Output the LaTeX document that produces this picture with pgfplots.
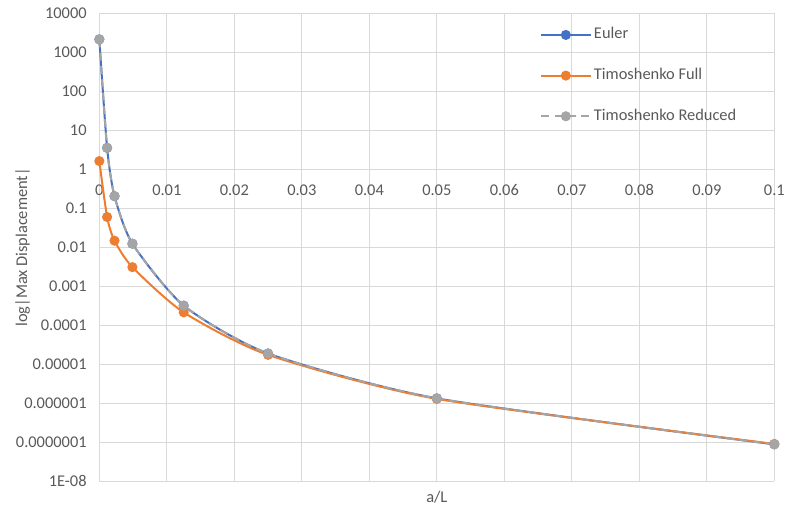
\documentclass[border=0pt]{standalone}
\usepackage{fontspec}
\setmainfont{Carlito}
\usepackage{pgfplots}
\pgfplotsset{compat=1.18}
\usetikzlibrary{calc}

\definecolor{eulerblue}{HTML}{4472C4}
\definecolor{timorange}{HTML}{ED7D31}
\definecolor{timgray}{HTML}{A5A5A5}
\definecolor{gridgray}{HTML}{D9D9D9}
\definecolor{txtgray}{HTML}{595959}

\begin{document}
\begin{tikzpicture}
\begin{axis}[
  scale only axis, width=506.25pt, height=351pt,
  ymode=log, xmin=0, xmax=0.1, ymin=1e-8, ymax=1e4,
  clip=false,
  axis line style={draw=none},
  grid=major, major grid style={gridgray, line width=0.75pt},
  major tick length=0pt, minor tick length=0pt,
  font=\fontsize{12.3}{14}\selectfont,
  tick label style={txtgray},
  xtick={0,0.01,0.02,0.03,0.04,0.05,0.06,0.07,0.08,0.09,0.1},
  xticklabels={0,0.01,0.02,0.03,0.04,0.05,0.06,0.07,0.08,0.09,0.1},
  xticklabel style={anchor=north, yshift=226pt},
  ytick={1e-8,1e-7,1e-6,1e-5,1e-4,1e-3,1e-2,1e-1,1,10,100,1000,10000},
  yticklabels={1E-08,0.0000001,0.000001,0.00001,0.0001,0.001,0.01,0.1,1,10,100,1000,10000},
  yticklabel style={anchor=east, xshift=-6pt},
  legend cell align=left,
  legend style={draw=none, fill=none, at={(rel axis cs:0.647,1)}, anchor=north west,
    yshift=-6pt, row sep=14.5pt, text=txtgray,
    nodes={text height=9pt, text depth=3pt},
    font=\fontsize{12.3}{14}\selectfont},
  legend image code/.code={\draw[mark repeat=2,mark phase=2,#1]
    plot coordinates {(0pt,0pt) (18.4pt,0pt) (36.75pt,0pt)};},
]
\addplot[eulerblue, line width=1.5pt, smooth, tension=0.4, mark=*, mark size=3pt]
  coordinates {(0,2150)(0.00115,3.55)(0.00225,0.205)(0.0049,0.0124)
               (0.0125,0.00032)(0.025,1.9e-5)(0.05,1.34e-6)(0.1,8.9e-8)};
\addplot[timorange, line width=1.5pt, smooth, tension=0.4, mark=*, mark size=3pt]
  coordinates {(0,1.63)(0.00115,0.06)(0.00225,0.0148)(0.0049,0.0031)
               (0.0125,0.000215)(0.025,1.75e-5)(0.05,1.3e-6)(0.1,9.1e-8)};
\addplot[timgray, line width=1.5pt, smooth, tension=0.4, dash pattern=on 6pt off 4pt,
  mark=*, mark size=3pt, mark options={solid}]
  coordinates {(0,2150)(0.00115,3.55)(0.00225,0.205)(0.0049,0.0124)
               (0.0125,0.00032)(0.025,1.9e-5)(0.05,1.34e-6)(0.1,8.9e-8)};
\legend{Euler, Timoshenko Full, Timoshenko Reduced}
\coordinate (sw) at (rel axis cs:0,0);
\coordinate (ne) at (rel axis cs:1,1);
\coordinate (ylab) at (rel axis cs:0,0.5);
\coordinate (xlab) at (rel axis cs:0.5,0);
\end{axis}
\node[rotate=90, txtgray, font=\fontsize{12.3}{14}\selectfont] at ([xshift=-57.5pt]ylab) {log|Max Displacement|};
\node[txtgray, font=\fontsize{12.3}{14}\selectfont] at ([yshift=-11.5pt]xlab) {a/L};
\pgfresetboundingbox
\path ([xshift=-74.5pt, yshift=-23.8pt]sw) rectangle ([xshift=11pt, yshift=10pt]ne);
\end{tikzpicture}
\end{document}
